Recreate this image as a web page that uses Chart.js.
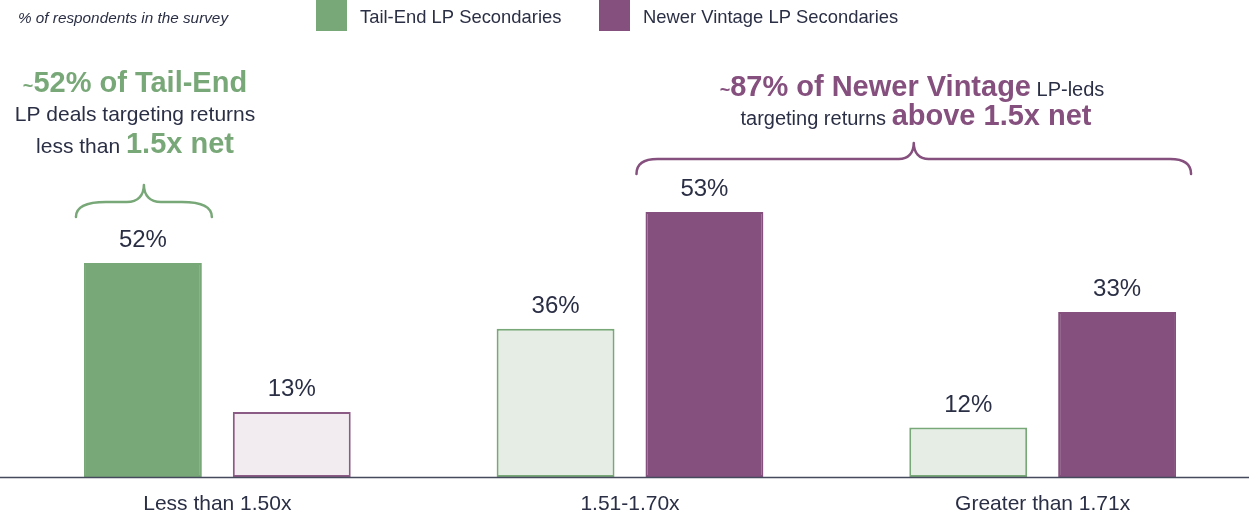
<!DOCTYPE html>
<html>
<head>
<meta charset="utf-8">
<script src="https://cdn.jsdelivr.net/npm/chart.js@4.4.1/dist/chart.umd.min.js"></script>
<style>
  html, body { margin: 0; padding: 0; background: #ffffff; overflow: hidden; }
  #wrap { position: relative; width: 1249px; height: 512px; }
</style>
</head>
<body>
<div id="wrap"><canvas id="chart" width="1249" height="512"></canvas></div>
<script>
// Target net return buckets and share of respondents per secondaries type
const categories = ['Less than 1.50x', '1.51-1.70x', 'Greater than 1.71x'];
const seriesNames = ['Tail-End LP Secondaries', 'Newer Vintage LP Secondaries'];
const tailEndValues = [52, 36, 12];
const newerVintageValues = [13, 53, 33];
const subtitle = '% of respondents in the survey';

const FONT = "'Liberation Sans', Arial, Helvetica, sans-serif";
const INK = '#2b2f45';
const GREEN = '#79a878';
const GREEN_LIGHT = '#e6ede5';
const PURPLE = '#854f7e';
const PURPLE_LIGHT = '#f2ebf0';
const PURPLE_EDGE = '#8b5a85';

// Each series is measured on its own hidden value axis
const tailEndAxisMax = 101.3;
const newerAxisMax = 83.4;

function drawRuns(ctx, runs, cx, baseline) {
  let total = 0;
  runs.forEach(r => { ctx.font = r.font; r.w = ctx.measureText(r.text).width; total += r.w; });
  let x = cx - total / 2;
  ctx.textAlign = 'left';
  ctx.textBaseline = 'alphabetic';
  runs.forEach(r => {
    ctx.font = r.font;
    ctx.fillStyle = r.color;
    ctx.fillText(r.text, x, baseline);
    x += r.w;
  });
}

function drawBrace(ctx, x1, x2, yEnd, yLine, yTip, rEnd, rTip, color) {
  const xm = (x1 + x2) / 2;
  ctx.save();
  ctx.strokeStyle = color;
  ctx.lineWidth = 2.5;
  ctx.lineCap = 'round';
  ctx.lineJoin = 'round';
  ctx.beginPath();
  ctx.moveTo(x1, yEnd);
  ctx.bezierCurveTo(x1, yLine + (yEnd - yLine) * 0.35, x1 + rEnd * 0.35, yLine, x1 + rEnd, yLine);
  ctx.lineTo(xm - rTip, yLine);
  ctx.bezierCurveTo(xm - rTip * 0.35, yLine, xm, yLine - (yLine - yTip) * 0.4, xm, yTip);
  ctx.bezierCurveTo(xm, yLine - (yLine - yTip) * 0.4, xm + rTip * 0.35, yLine, xm + rTip, yLine);
  ctx.lineTo(x2 - rEnd, yLine);
  ctx.bezierCurveTo(x2 - rEnd * 0.35, yLine, x2, yLine + (yEnd - yLine) * 0.35, x2, yEnd);
  ctx.stroke();
  ctx.restore();
}

const valueLabels = {
  id: 'valueLabels',
  afterDatasetsDraw(chart) {
    const ctx = chart.ctx;
    ctx.save();
    ctx.font = '24px ' + FONT;
    ctx.fillStyle = INK;
    ctx.textAlign = 'center';
    ctx.textBaseline = 'alphabetic';
    chart.data.datasets.forEach((ds, i) => {
      chart.getDatasetMeta(i).data.forEach((bar, j) => {
        ctx.fillText(ds.data[j] + '%', bar.x, bar.y - 16);
      });
    });
    // baseline axis across the full width
    const y = chart.chartArea.bottom + 0.5;
    ctx.strokeStyle = '#454a5c';
    ctx.lineWidth = 1.5;
    ctx.beginPath();
    ctx.moveTo(0, y);
    ctx.lineTo(chart.width, y);
    ctx.stroke();
    ctx.restore();
  }
};

const headerAndCallouts = {
  id: 'headerAndCallouts',
  afterDraw(chart) {
    const ctx = chart.ctx;
    ctx.save();
    // legend row
    ctx.textAlign = 'left';
    ctx.textBaseline = 'alphabetic';
    ctx.font = 'italic 15.3px ' + FONT;
    ctx.fillStyle = INK;
    ctx.fillText(subtitle, 18, 23);
    ctx.fillStyle = GREEN;
    ctx.fillRect(316, 0, 31, 31);
    ctx.fillStyle = PURPLE;
    ctx.fillRect(599, 0, 31, 31);
    ctx.font = '18.4px ' + FONT;
    ctx.fillStyle = INK;
    ctx.fillText(seriesNames[0], 360, 23);
    ctx.fillText(seriesNames[1], 643, 23);

    // callout for the tail-end series
    const bold = 'bold 29px ' + FONT;
    const tilde = 'bold 18px ' + FONT;
    const reg = '21px ' + FONT;
    drawRuns(ctx, [
      { text: '~', font: tilde, color: GREEN },
      { text: '52% of Tail-End', font: bold, color: GREEN }
    ], 135, 92);
    drawRuns(ctx, [{ text: 'LP deals targeting returns', font: reg, color: INK }], 135, 121);
    drawRuns(ctx, [
      { text: 'less than ', font: reg, color: INK },
      { text: '1.5x net', font: bold, color: GREEN }
    ], 135, 153);

    // callout for the newer vintage series
    drawRuns(ctx, [
      { text: '~', font: tilde, color: PURPLE },
      { text: '87% of Newer Vintage', font: bold, color: PURPLE },
      { text: ' LP-leds', font: '20px ' + FONT, color: INK }
    ], 912, 96);
    drawRuns(ctx, [
      { text: 'targeting returns ', font: '20px ' + FONT, color: INK },
      { text: 'above 1.5x net', font: bold, color: PURPLE }
    ], 916, 125);

    // braces over the highlighted bars
    const g = chart.getDatasetMeta(0).data[0];
    drawBrace(ctx, g.x - g.width / 2 - 8, g.x + g.width / 2 + 10, 217, 202, 185, 30, 17, GREEN);
    const p1 = chart.getDatasetMeta(1).data[1];
    const p2 = chart.getDatasetMeta(1).data[2];
    drawBrace(ctx, p1.x - p1.width / 2 - 9, p2.x + p2.width / 2 + 15, 174, 159, 143, 21, 15, PURPLE);
    ctx.restore();
  }
};

new Chart(document.getElementById('chart'), {
  type: 'bar',
  data: {
    labels: categories,
    datasets: [
      {
        label: seriesNames[0],
        data: tailEndValues,
        yAxisID: 'yTail',
        backgroundColor: [GREEN, GREEN_LIGHT, GREEN_LIGHT],
        borderColor: [GREEN, GREEN, GREEN],
        borderWidth: 2,
        borderSkipped: false,
        categoryPercentage: 0.7215,
        barPercentage: 0.792
      },
      {
        label: seriesNames[1],
        data: newerVintageValues,
        yAxisID: 'yNewer',
        backgroundColor: [PURPLE_LIGHT, PURPLE, PURPLE],
        borderColor: [PURPLE_EDGE, PURPLE, PURPLE],
        borderWidth: 2,
        borderSkipped: false,
        categoryPercentage: 0.7215,
        barPercentage: 0.792
      }
    ]
  },
  options: {
    responsive: false,
    animation: false,
    layout: { padding: { top: 60, left: 11, right: 0, bottom: 0 } },
    plugins: {
      legend: { display: false },
      tooltip: { enabled: false }
    },
    scales: {
      x: {
        grid: { display: false },
        border: { display: false },
        ticks: { color: INK, font: { family: FONT, size: 21 }, padding: 7, maxRotation: 0 },
        afterFit(scale) { scale.height = 35; }
      },
      yTail: { display: false, min: 0, max: tailEndAxisMax },
      yNewer: { display: false, min: 0, max: newerAxisMax }
    }
  },
  plugins: [valueLabels, headerAndCallouts]
});
</script>
</body>
</html>
